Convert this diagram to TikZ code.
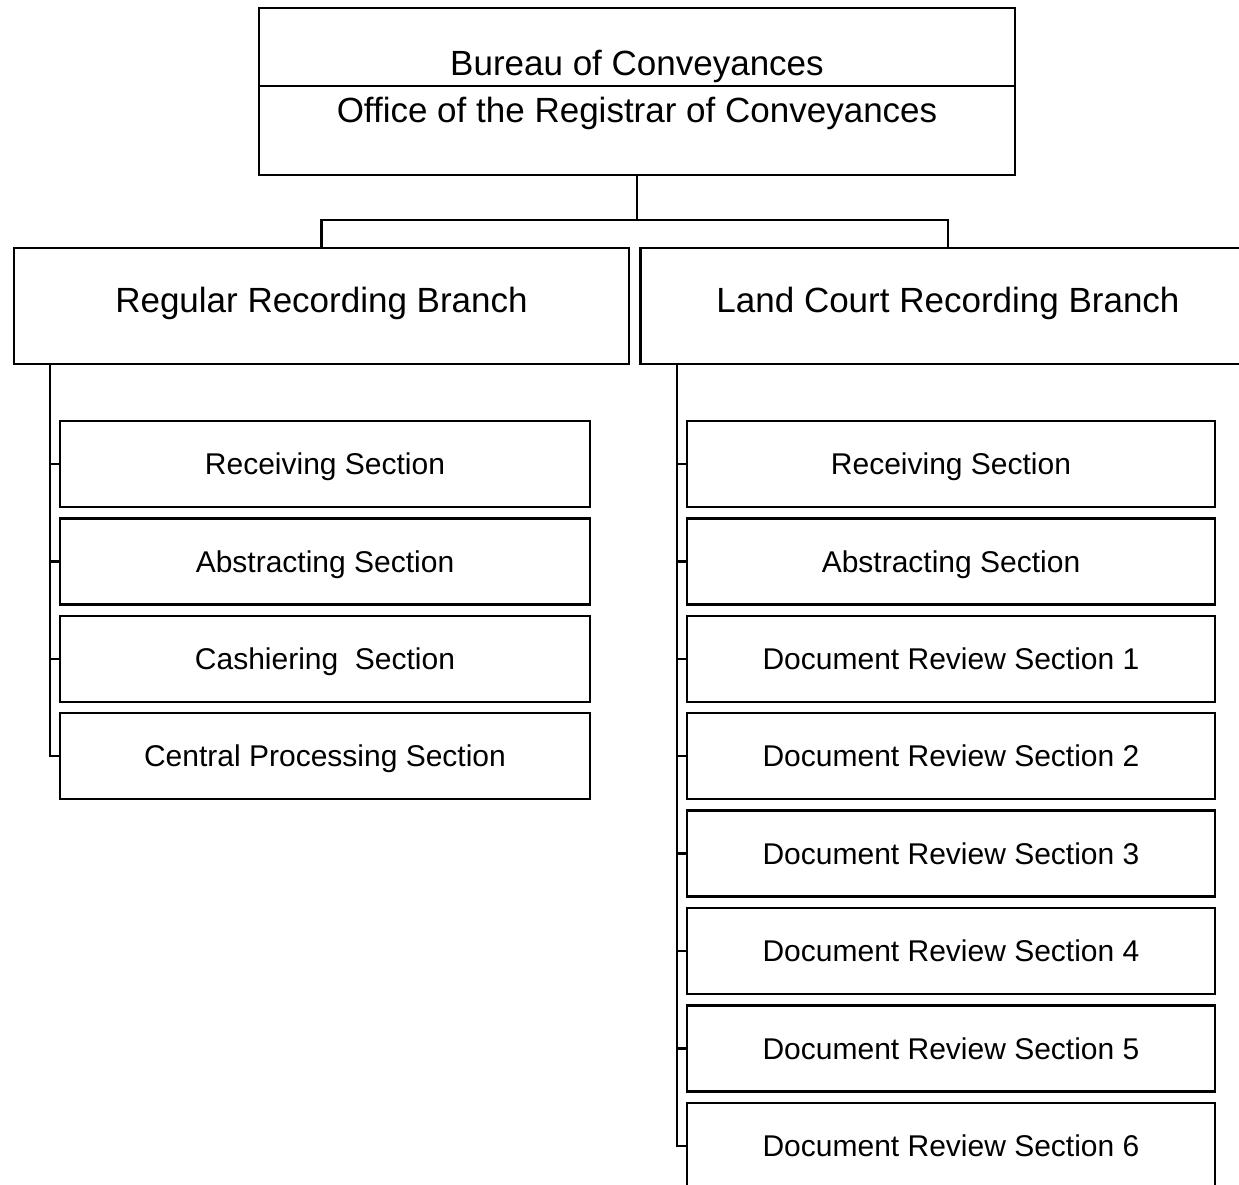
\documentclass[tikz,border=0pt]{standalone}
\usepackage{fontspec}
\setmainfont{Liberation Sans}
\usepackage{tikz}
\usetikzlibrary{positioning}

\begin{document}
\begin{tikzpicture}[x=0.5pt, y=-0.5pt, line width=1.2pt,
    topbox/.style={draw, minimum width=378pt, minimum height=83.5pt, inner sep=0pt},
    branchbox/.style={draw, minimum width=307.5pt, minimum height=58pt, inner sep=0pt,
        text height=12.5pt, text depth=5.9pt, font=\fontsize{17.5}{21}\selectfont},
    sectionbox/.style={draw, minimum height=43pt, inner sep=0pt,
        text height=12.2pt, text depth=1.5pt, font=\fontsize{15}{18}\selectfont}]

\clip (0,0) rectangle (1239,1185);
\useasboundingbox (0,0) rectangle (1239,1185);

% Draw top box
\node[topbox] (office) at (637,91.5) {};
\draw (office.west |- 0,86) -- (office.east |- 0,86);
\node[font=\fontsize{17.5}{21}\selectfont] (bureautxt) at (637,66) {Bureau of Conveyances};
\node[font=\fontsize{17.5}{21}\selectfont] (officetxt) at (637,113) {Office of the Registrar of Conveyances};

% Draw branch boxes
\node[branchbox] (regular) at (321.5,306) {Regular Recording Branch};
\node[branchbox] (land) at (948,306) {Land Court Recording Branch};

\coordinate (split) at (637,220);
\draw (office.south) -- (split);
\draw (split) -| (regular.north);
\draw (split) -| (land.north);

% Draw regular sections
\foreach \name/\label [count=\i] in {rs1/Receiving Section, rs2/Abstracting Section,
    rs3/Cashiering\ \ Section, rs4/Central Processing Section}
  \node[sectionbox, minimum width=265pt] (\name) at (325,{464+97.4*(\i-1)}) {\label};

\coordinate (rspine) at (50,364);
\draw (rspine) |- (rs4.west);
\foreach \i in {1,2,3}
  \draw (rs\i.west) -- (rs\i.west -| rspine);

% Draw land court sections
\foreach \name/\label [count=\i] in {ls1/Receiving Section, ls2/Abstracting Section,
    ls3/Document Review Section 1, ls4/Document Review Section 2,
    ls5/Document Review Section 3, ls6/Document Review Section 4,
    ls7/Document Review Section 5, ls8/Document Review Section 6}
  \node[sectionbox, minimum width=264pt] (\name) at (951,{464+97.4*(\i-1)}) {\label};

\coordinate (lspine) at (677,364);
\draw (lspine) |- (ls8.west);
\foreach \i in {1,...,7}
  \draw (ls\i.west) -- (ls\i.west -| lspine);

\end{tikzpicture}
\end{document}
